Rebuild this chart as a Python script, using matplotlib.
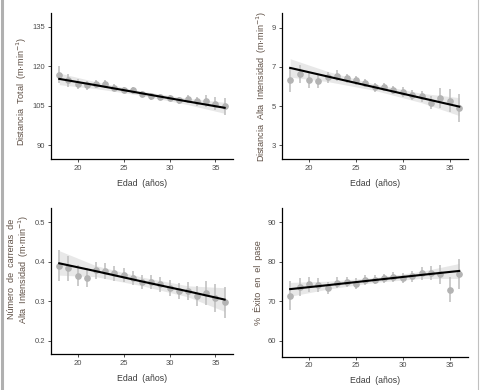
import numpy as np
import matplotlib
matplotlib.use('Agg')
import matplotlib.pyplot as plt
from matplotlib.lines import Line2D

plt.rcParams['font.family'] = ['Liberation Sans', 'DejaVu Sans']

edad = np.arange(18, 37)
band_x = [18, 22, 27, 32, 36]

# Distancia total
dt_mean = [116.8, 114.6, 113.3, 112.7, 113.3, 113.3, 111.8, 111.0, 110.8, 109.5,
           108.5, 108.3, 107.9, 107.0, 107.6, 106.6, 106.8, 105.8, 104.8]
dt_err = [3.2, 2.5, 2.0, 1.8, 1.5, 1.4, 1.3, 1.2, 1.2, 1.1,
          1.2, 1.2, 1.3, 1.4, 1.5, 1.8, 2.2, 2.5, 3.3]
dt_fit = [115.2, 112.8, 109.7, 106.6, 104.2]
dt_lo = [113.0, 111.5, 108.9, 105.4, 102.1]
dt_hi = [117.4, 114.1, 110.5, 107.8, 106.3]

# Distancia alta intensidad
dai_mean = [6.33, 6.65, 6.31, 6.28, 6.46, 6.55, 6.41, 6.31, 6.18, 5.95,
            5.97, 5.82, 5.70, 5.57, 5.49, 5.18, 5.40, 5.27, 4.88]
dai_err = [0.60, 0.45, 0.40, 0.35, 0.30, 0.28, 0.25, 0.24, 0.22, 0.22,
           0.22, 0.23, 0.25, 0.27, 0.30, 0.35, 0.50, 0.60, 0.72]
dai_fit = [6.95, 6.51, 5.96, 5.41, 4.97]
dai_lo = [6.48, 6.25, 5.80, 5.17, 4.51]
dai_hi = [7.42, 6.77, 6.12, 5.65, 5.43]

# Numero de carreras alta intensidad
nc_mean = [0.390, 0.383, 0.365, 0.360, 0.378, 0.376, 0.371, 0.366, 0.358, 0.348,
           0.348, 0.343, 0.334, 0.326, 0.326, 0.313, 0.320, 0.308, 0.297]
nc_err = [0.040, 0.032, 0.027, 0.025, 0.022, 0.020, 0.019, 0.018, 0.018, 0.018,
          0.018, 0.019, 0.020, 0.021, 0.023, 0.025, 0.030, 0.035, 0.040]
nc_fit = [0.396, 0.376, 0.350, 0.325, 0.304]
nc_lo = [0.366, 0.362, 0.339, 0.311, 0.274]
nc_hi = [0.428, 0.390, 0.361, 0.339, 0.334]

# % exito en el pase
ep_mean = [71.4, 73.7, 74.3, 74.1, 73.3, 74.7, 74.9, 74.5, 75.4, 75.5,
           75.8, 76.2, 76.0, 76.4, 77.1, 77.1, 76.8, 73.0, 76.9]
ep_err = [3.7, 2.3, 1.9, 1.7, 1.5, 1.4, 1.3, 1.3, 1.2, 1.2,
          1.2, 1.3, 1.3, 1.4, 1.6, 1.8, 2.4, 3.1, 3.8]
ep_fit = [73.1, 74.1, 75.4, 76.7, 77.7]
ep_lo = [71.3, 73.1, 74.8, 75.8, 75.8]
ep_hi = [74.8, 75.1, 76.0, 77.6, 79.6]

panels = [
    ([0.10625, 0.5923, 0.379, 0.3744], dt_mean, dt_err, dt_fit, dt_lo, dt_hi,
     [90, 105, 120, 135], (84.7, 140.3), 'Distancia  Total  (m·min$^{-1}$)', (-0.12, 0.466)),
    ([0.5869, 0.5923, 0.3875, 0.3744], dai_mean, dai_err, dai_fit, dai_lo, dai_hi,
     [3, 5, 7, 9], (2.29, 9.76), 'Distancia  Alta  Intensidad  (m·min$^{-1}$)', (-0.068, 0.5)),
    ([0.10625, 0.0923, 0.379, 0.3751], nc_mean, nc_err, nc_fit, nc_lo, nc_hi,
     [0.2, 0.3, 0.4, 0.5], (0.166, 0.537),
     'Número  de  carreras  de\nAlta  Intensidad  (m·min$^{-1}$)', (-0.11, 0.58)),
    ([0.5869, 0.0854, 0.3875, 0.3820], ep_mean, ep_err, ep_fit, ep_lo, ep_hi,
     [60, 70, 80, 90], (56.0, 93.7), '%  Éxito  en  el  pase', (-0.10, 0.5)),
]

fig = plt.figure(figsize=(4.8, 3.9), dpi=100)
for pos, mean, err, fit, lo, hi, yt, ylim, ylab, labxy in panels:
    ax = fig.add_axes(pos)
    ax.fill_between(band_x, lo, hi, color='#d9d9d9', alpha=0.6, linewidth=0, zorder=1)
    ax.errorbar(edad, mean, yerr=err, fmt='o', color='#b3b3b3', ecolor='#bdbdbd',
                elinewidth=1.1, markersize=3.8, capsize=0, zorder=2)
    ax.plot(band_x, fit, color='black', linewidth=1.5, zorder=3)
    ax.set_xlim(17.1, 36.9)
    ax.set_ylim(*ylim)
    ax.set_xticks([20, 25, 30, 35])
    ax.set_yticks(yt)
    ax.set_yticklabels([str(v) for v in yt])
    for s in ['top', 'right']:
        ax.spines[s].set_visible(False)
    for s in ['left', 'bottom']:
        ax.spines[s].set_linewidth(0.9)
        ax.spines[s].set_color('black')
    ax.tick_params(labelsize=5.5, length=2.5, width=0.7, colors='#4d4d4d', pad=1.5)
    ax.set_xlabel('Edad  (años)', fontsize=6.3, color='#3d3d3d', labelpad=5)
    ax.set_ylabel(ylab, fontsize=6.5, color='#5e4f45', linespacing=1.05,
                  multialignment='center')
    ax.yaxis.set_label_coords(*labxy)

fig.add_artist(Line2D([0.004, 0.004], [0, 1], color='#b0b0b0', linewidth=2.2))
fig.add_artist(Line2D([0.996, 0.996], [0, 1], color='#c0c0c0', linewidth=0.8))

fig.savefig('out.png', dpi=100)
